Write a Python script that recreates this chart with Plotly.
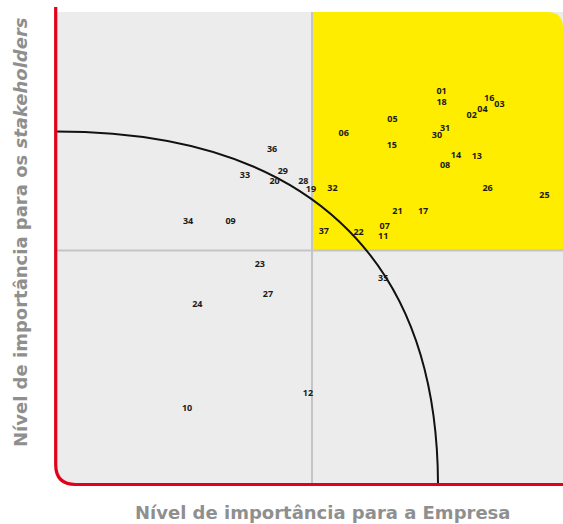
import plotly.graph_objects as go

# ---- data ----
codes = ["01", "18", "16", "03", "04", "02", "05", "06", "31", "30",
         "15", "14", "13", "08", "26", "25", "32", "28", "19", "21",
         "17", "37", "22", "07", "11", "36", "33", "29", "20", "34",
         "09", "23", "27", "24", "35", "12", "10"]
empresa = [7.53, 7.53, 8.46, 8.66, 8.33, 8.12, 6.57, 5.62, 7.60, 7.44,
           6.56, 7.81, 8.22, 7.60, 8.43, 9.54, 5.40, 4.83, 4.98, 6.67,
           7.17, 5.23, 5.91, 6.42, 6.39, 4.22, 3.69, 4.43, 4.27, 2.58,
           3.41, 3.98, 4.14, 2.76, 6.39, 4.92, 2.56]
stakeholders = [8.39, 8.17, 8.24, 8.12, 8.02, 7.88, 7.79, 7.51, 7.60, 7.45,
                7.24, 7.02, 7.00, 6.82, 6.33, 6.18, 6.33, 6.48, 6.30, 5.82,
                5.82, 5.41, 5.39, 5.50, 5.30, 7.15, 6.61, 6.68, 6.47, 5.61,
                5.61, 4.70, 4.05, 3.83, 4.40, 1.94, 1.62]

x_title = "Nível de importância para a Empresa"
y_title = "Nível de importância para os <i>stakeholders</i>"

# ---- styling / geometry ----
X_MAX, Y_MAX = 9.902, 10.107
X_MID, Y_MID = 5.0, 5.0
RED = "#e2001a"
YELLOW = "#ffed00"
GREY_BG = "#ebeceb"
DIVIDER = "#c4c4c4"
TITLE_GREY = "#8f8f8f"
LABEL_FONT = "Noto Sans"
TITLE_FONT = "DejaVu Sans"

# arc (cubic bezier in data units)
ARC = [(0.0, 7.548), (4.844, 7.548), (7.461, 4.904), (7.461, -0.05)]

W, H = 563, 524
ML, MR, MT, MB = 56, 0, 12, 40
PW, PH = W - ML - MR, H - MT - MB
px_x = X_MAX / PW
px_y = Y_MAX / PH

fig = go.Figure()

fig.add_trace(go.Scatter(
    x=empresa, y=stakeholders, text=codes, mode="text",
    textposition="middle center",
    textfont=dict(family=LABEL_FONT, size=9, color="#1a1a1a", weight="bold"),
    hoverinfo="skip", showlegend=False, cliponaxis=False,
))

shapes = []
# grey background with rounded bottom-left corner
r = 20
rx, ry = r * px_x, r * px_y
shapes.append(dict(
    type="path", xref="x", yref="y", layer="below",
    path=f"M 0,{Y_MAX} L {X_MAX},{Y_MAX} L {X_MAX},0 L {rx},0 Q 0,0 0,{ry} Z",
    fillcolor=GREY_BG, line=dict(width=0),
))
# yellow quadrant with rounded top-right corner
r2 = 16
r2x, r2y = r2 * px_x, r2 * px_y
shapes.append(dict(
    type="path", xref="x", yref="y", layer="below",
    path=(f"M {X_MID},{Y_MID} L {X_MID},{Y_MAX} L {X_MAX - r2x},{Y_MAX} "
          f"Q {X_MAX},{Y_MAX} {X_MAX},{Y_MAX - r2y} L {X_MAX},{Y_MID} Z"),
    fillcolor=YELLOW, line=dict(width=0),
))
# dividers
shapes.append(dict(type="line", xref="x", yref="y", layer="below",
                   x0=X_MID, x1=X_MID, y0=0, y1=Y_MAX,
                   line=dict(color=DIVIDER, width=2)))
shapes.append(dict(type="line", xref="x", yref="y", layer="below",
                   x0=0, x1=X_MAX, y0=Y_MID, y1=Y_MID,
                   line=dict(color=DIVIDER, width=2)))
# arc
(a0, a1, a2, a3) = ARC
shapes.append(dict(
    type="path", xref="x", yref="y", layer="below",
    path=f"M {a0[0]},{a0[1]} C {a1[0]},{a1[1]} {a2[0]},{a2[1]} {a3[0]},{a3[1]}",
    line=dict(color="#111111", width=2),
))
# red L axis with rounded corner (paper coords)
xl = -0.3 / PW
yb = -0.5 / PH
ytop = (PH + 5) / PH
dx, dy = r / PW, r / PH
shapes.append(dict(
    type="path", xref="paper", yref="paper", layer="above",
    path=(f"M {xl},{ytop} L {xl},{yb + dy} Q {xl},{yb} {xl + dx},{yb} "
          f"L 1.02,{yb}"),
    line=dict(color=RED, width=3.2),
))

annotations = [
    dict(text=x_title, xref="paper", yref="paper",
         x=(322 - ML) / PW, y=-(512 - (H - MB)) / PH,
         xanchor="center", yanchor="middle", showarrow=False,
         font=dict(family=TITLE_FONT, size=18, color=TITLE_GREY, weight="bold")),
    dict(text=y_title, xref="paper", yref="paper",
         x=(20 - ML) / PW, y=((H - MB) - 232) / PH, textangle=-90,
         xanchor="center", yanchor="middle", showarrow=False,
         font=dict(family=TITLE_FONT, size=18, color=TITLE_GREY, weight="bold")),
]

fig.update_layout(
    width=W, height=H,
    margin=dict(l=ML, r=MR, t=MT, b=MB, pad=0),
    paper_bgcolor="white", plot_bgcolor="rgba(0,0,0,0)",
    xaxis=dict(range=[0, X_MAX], visible=False, fixedrange=True),
    yaxis=dict(range=[0, Y_MAX], visible=False, fixedrange=True),
    shapes=shapes, annotations=annotations, showlegend=False,
)

fig.write_html("out.html", config={"displayModeBar": False})
